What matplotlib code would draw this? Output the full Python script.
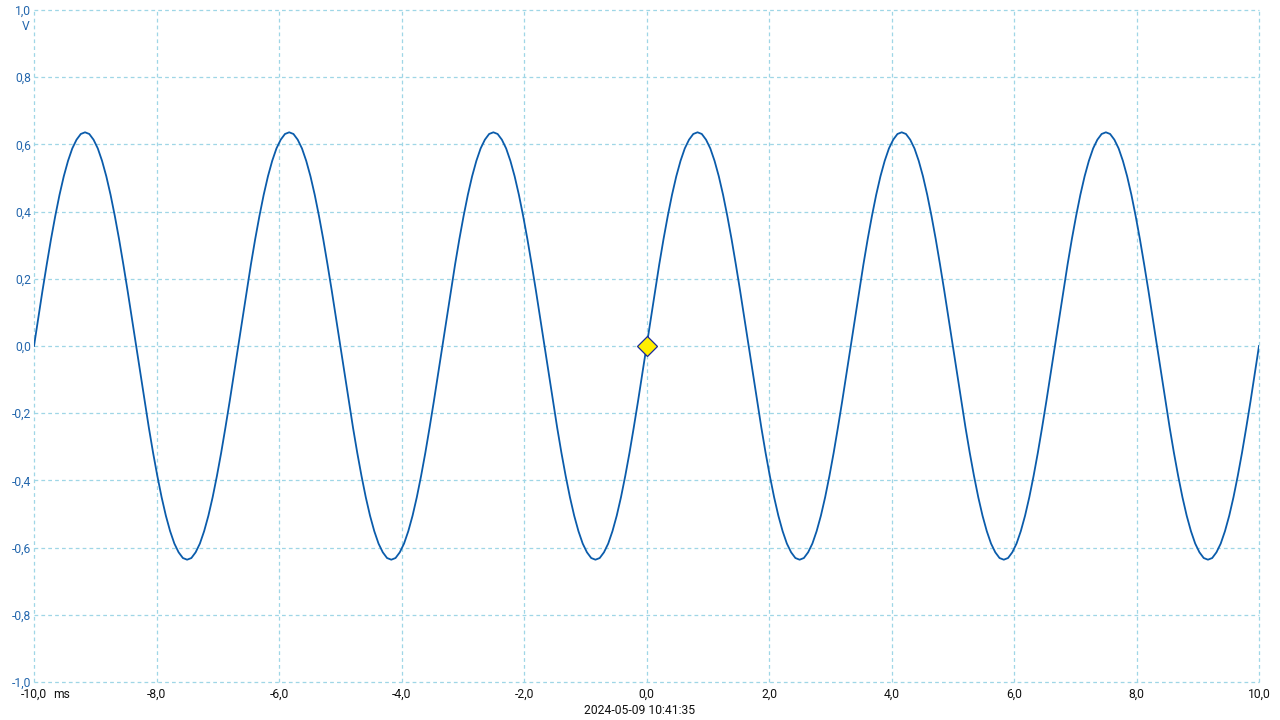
import numpy as np
import matplotlib
matplotlib.use("Agg")
import matplotlib.pyplot as plt

plt.rcParams['font.family'] = ['Roboto', 'DejaVu Sans']

# one period of the trace (volts), 48 samples per period
period_volts = [0.000, 0.083, 0.165, 0.243, 0.318, 0.387, 0.450, 0.505,
                0.551, 0.588, 0.614, 0.631, 0.636, 0.631, 0.614, 0.588,
                0.551, 0.505, 0.450, 0.387, 0.318, 0.243, 0.165, 0.083,
                0.000, -0.083, -0.165, -0.243, -0.318, -0.387, -0.450, -0.505,
                -0.551, -0.588, -0.614, -0.631, -0.636, -0.631, -0.614, -0.588,
                -0.551, -0.505, -0.450, -0.387, -0.318, -0.243, -0.165, -0.083]
n_periods = 6
volts = list(period_volts) * n_periods + [0.000]
time_ms = np.linspace(-10.0, 10.0, len(volts))

x_ticks = [-10, -8, -6, -4, -2, 0, 2, 4, 6, 8, 10]
x_labels = ["-10,0", "-8,0", "-6,0", "-4,0", "-2,0", "0,0", "2,0", "4,0", "6,0", "8,0", "10,0"]
y_ticks = [-1.0, -0.8, -0.6, -0.4, -0.2, 0.0, 0.2, 0.4, 0.6, 0.8, 1.0]
y_labels = ["-1,0", "-0,8", "-0,6", "-0,4", "-0,2", "0,0", "0,2", "0,4", "0,6", "0,8", "1,0"]
trigger_point = (0.0, 0.0)
timestamp = "2024-05-09 10:41:35"

FS = 8.7
fig = plt.figure(figsize=(12.8, 7.2), dpi=100)
ax = fig.add_axes([34/1280, 38/720, 1225/1280, 672/720])

ax.plot(time_ms, volts, color='#0b5cab', lw=1.3, zorder=3)
ax.plot([trigger_point[0]], [trigger_point[1]], marker='D', ms=10, mfc='#ffee00',
        mec='#1a2a9a', mew=0.9, zorder=4, clip_on=False)

ax.set_xlim(-10, 10)
ax.set_ylim(-1, 1)
ax.set_xticks(x_ticks)
ax.set_xticklabels(x_labels)
ax.set_yticks(y_ticks)
ax.set_yticklabels(y_labels)
ax.tick_params(axis='both', length=0, labelsize=FS)
ax.tick_params(axis='x', pad=4, labelcolor='#111111')
ax.tick_params(axis='y', pad=2, labelcolor='#2467ad')
for s in ax.spines.values():
    s.set_visible(False)
ax.grid(True, color='#9fd6e6', ls=(0, (3, 2.5)), lw=0.9)
for gl in ax.get_xgridlines() + ax.get_ygridlines():
    gl.set_clip_on(False)

ax.annotate("V", xy=(0, 1.0), xycoords=('axes fraction', 'data'),
            xytext=(-3, -12), textcoords='offset points', ha='right', va='center',
            fontsize=FS, color='#2467ad')
ax.annotate("ms", xy=(-10, -1.0), xycoords='data',
            xytext=(13.5, -4), textcoords='offset points', ha='left', va='top',
            fontsize=FS, color='#111111', annotation_clip=False)
fig.text(0.5, 10/720, timestamp, ha='center', va='center', fontsize=FS, color='#111111')

fig.savefig("out.png", dpi=100)
